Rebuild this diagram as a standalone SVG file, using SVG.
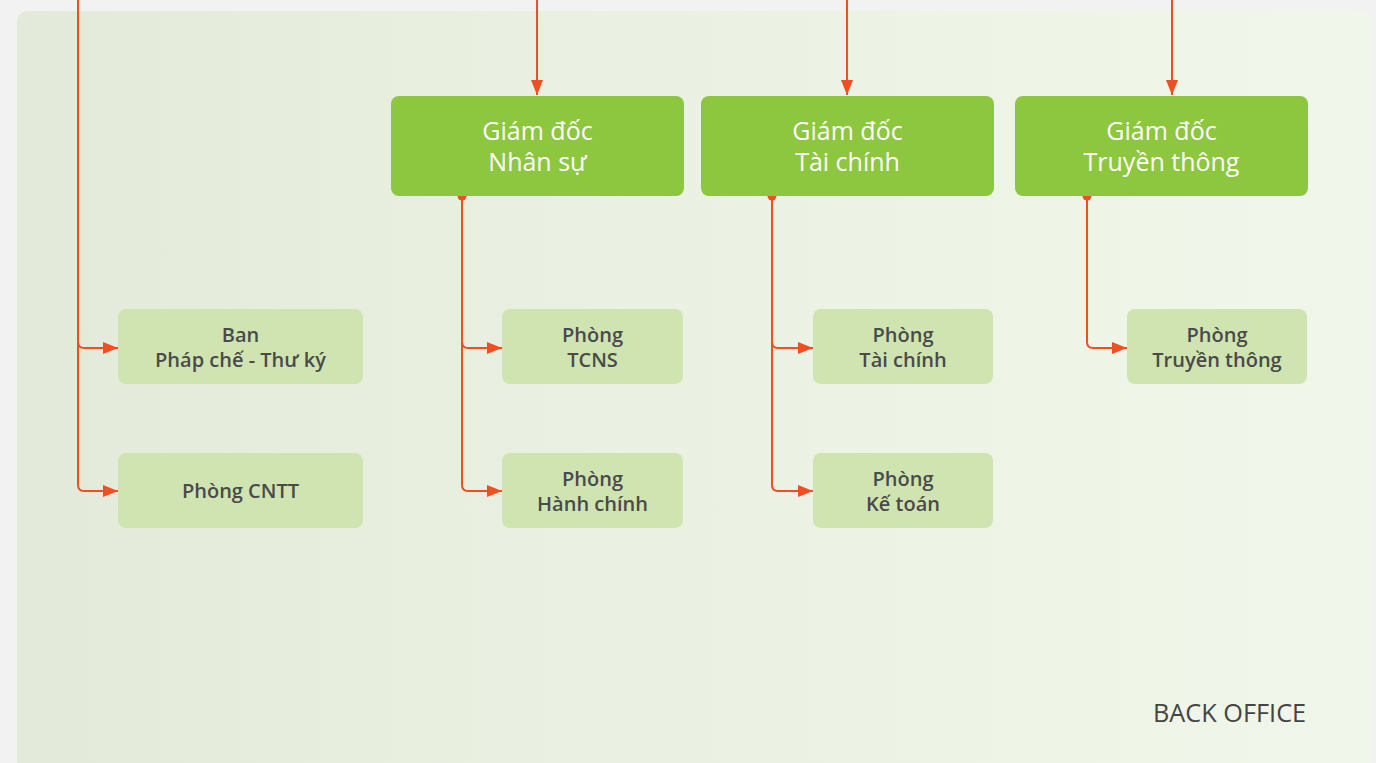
<svg xmlns="http://www.w3.org/2000/svg" width="1376" height="763" viewBox="0 0 1376 763">
<defs>
<linearGradient id="bg" x1="0" y1="0" x2="1" y2="0">
<stop offset="0" stop-color="#e3ead9"/>
<stop offset="0.45" stop-color="#ebf1e2"/>
<stop offset="1" stop-color="#f0f6e9"/>
</linearGradient>
<marker id="ah" viewBox="0 0 15 12" refX="15" refY="6" markerWidth="15" markerHeight="12" markerUnits="userSpaceOnUse" orient="auto">
<path d="M0,0 L15,6 L0,12 Z" fill="#f04e23"/>
</marker>
</defs>
<style>
.big{fill:#8dc63f}
.small{fill:#cfe4b0}
.bt{font-family:"Open Sans","Noto Sans",sans-serif;font-size:25px;font-weight:500;fill:#ffffff;text-anchor:middle}
.st{font-family:"Open Sans","Noto Sans",sans-serif;font-size:20px;font-weight:600;fill:#4a4a4a;text-anchor:middle}
.conn{fill:none;stroke:#f04e23;stroke-width:2}
.dot{fill:#f04e23}
</style>
<rect x="0" y="0" width="1376" height="763" fill="#f2f2f2"/>
<rect x="17" y="11" width="1354" height="760" rx="10" fill="url(#bg)"/>
<text x="1153" y="722" font-family="'Open Sans','Noto Sans',sans-serif" font-size="25.3" fill="#444444">BACK OFFICE</text>
<g id="connectors">
<path class="conn" d="M78,0 V342 Q78,348 84,348 H118" marker-end="url(#ah)"/>
<path class="conn" d="M78,340 V485 Q78,491 84,491 H118" marker-end="url(#ah)"/>
<path class="conn" d="M537,0 V95" marker-end="url(#ah)"/>
<path class="conn" d="M847,0 V95" marker-end="url(#ah)"/>
<path class="conn" d="M1172,0 V95" marker-end="url(#ah)"/>
<circle class="dot" cx="462" cy="196" r="4.5"/>
<path class="conn" d="M462,196 V342 Q462,348 468,348 H502" marker-end="url(#ah)"/>
<path class="conn" d="M462,340 V485 Q462,491 468,491 H502" marker-end="url(#ah)"/>
<circle class="dot" cx="772" cy="196" r="4.5"/>
<path class="conn" d="M772,196 V342 Q772,348 778,348 H813" marker-end="url(#ah)"/>
<path class="conn" d="M772,340 V485 Q772,491 778,491 H813" marker-end="url(#ah)"/>
<circle class="dot" cx="1087" cy="196" r="4.5"/>
<path class="conn" d="M1087,196 V342 Q1087,348 1093,348 H1127" marker-end="url(#ah)"/>
</g>
<g id="gd-nhansu">
<rect class="big" x="391" y="96" width="293" height="100" rx="8"/>
<text class="bt" x="537.5" y="140">Giám đốc</text>
<text class="bt" x="537.5" y="171">Nhân sự</text>
</g>
<g id="gd-taichinh">
<rect class="big" x="701" y="96" width="293" height="100" rx="8"/>
<text class="bt" x="847.5" y="140">Giám đốc</text>
<text class="bt" x="847.5" y="171">Tài chính</text>
</g>
<g id="gd-truyenthong">
<rect class="big" x="1015" y="96" width="293" height="100" rx="8"/>
<text class="bt" x="1161.5" y="140">Giám đốc</text>
<text class="bt" x="1161.5" y="171">Truyền thông</text>
</g>
<g id="ban-phapche">
<rect class="small" x="118" y="309" width="245" height="75" rx="8"/>
<text class="st" x="240.5" y="342">Ban</text>
<text class="st" x="240.5" y="367">Pháp chế - Thư ký</text>
</g>
<g id="phong-cntt">
<rect class="small" x="118" y="453" width="245" height="75" rx="8"/>
<text class="st" x="240.5" y="498">Phòng CNTT</text>
</g>
<g id="phong-tcns">
<rect class="small" x="502" y="309" width="181" height="75" rx="8"/>
<text class="st" x="592.5" y="342">Phòng</text>
<text class="st" x="592.5" y="367">TCNS</text>
</g>
<g id="phong-hanhchinh">
<rect class="small" x="502" y="453" width="181" height="75" rx="8"/>
<text class="st" x="592.5" y="486">Phòng</text>
<text class="st" x="592.5" y="511">Hành chính</text>
</g>
<g id="phong-taichinh">
<rect class="small" x="813" y="309" width="180" height="75" rx="8"/>
<text class="st" x="903" y="342">Phòng</text>
<text class="st" x="903" y="367">Tài chính</text>
</g>
<g id="phong-ketoan">
<rect class="small" x="813" y="453" width="180" height="75" rx="8"/>
<text class="st" x="903" y="486">Phòng</text>
<text class="st" x="903" y="511">Kế toán</text>
</g>
<g id="phong-truyenthong">
<rect class="small" x="1127" y="309" width="180" height="75" rx="8"/>
<text class="st" x="1217" y="342">Phòng</text>
<text class="st" x="1217" y="367">Truyền thông</text>
</g>
</svg>
